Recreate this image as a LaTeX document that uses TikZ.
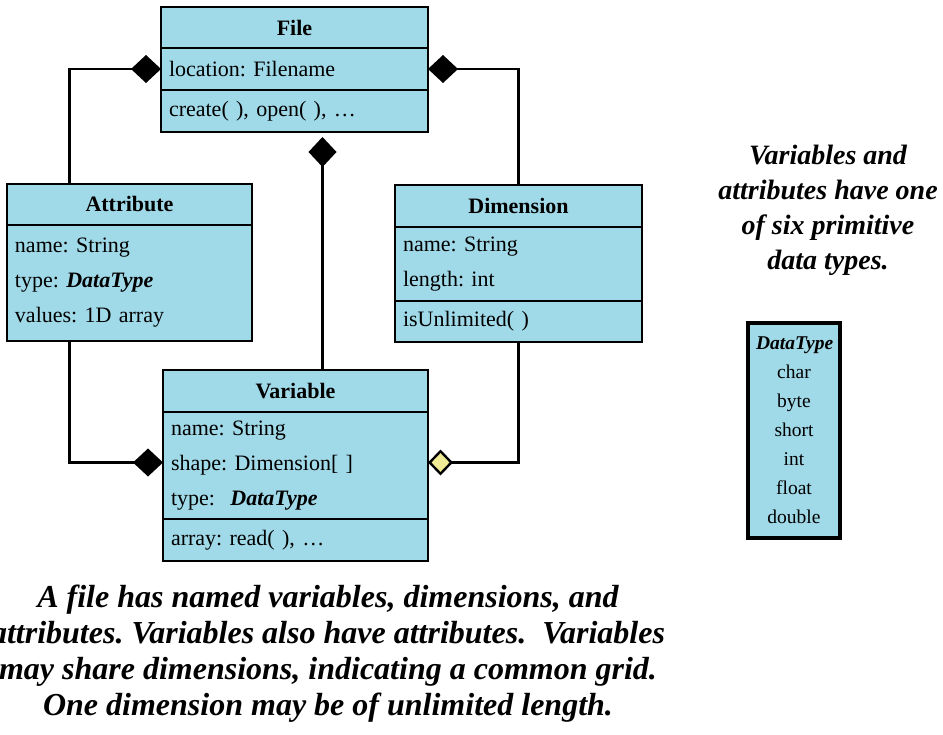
\documentclass[tikz,border=0pt]{standalone}
\usepackage{fontspec}
\setmainfont{Liberation Serif}
\usepackage{tikz}
\usetikzlibrary{arrows.meta,positioning}
\definecolor{ClassBlue}{RGB}{160,217,231}
\definecolor{AggYellow}{RGB}{240,236,150}
\frenchspacing

\begin{document}
\begin{tikzpicture}[x=1pt,y=-1pt,line width=2.4pt]
   \useasboundingbox (0,0) rectangle (943,735);
   \clip (0,0) rectangle (943,735);
   \tikzstyle{part}=[draw=black, fill=ClassBlue, line width=2.4pt, outer sep=0pt, inner ysep=0pt, inner xsep=8pt, font=\fontsize{22}{35}\selectfont]
   \tikzstyle{head}=[part, font=\fontsize{22}{35}\selectfont\bfseries, anchor=north west, minimum height=41]
   \tikzstyle{rows}=[part, align=left, below=0pt of #1]
   \tikzstyle{agg}=[{Diamond[length=30pt,width=28pt]}-]
   \newcommand{\dtype}{\textbf{\textit{DataType}}}
   % File
   \node[head, minimum width=267] (file) at (161,7) {File};
   \node[rows=file, text width=251, minimum height=42] (fileattr) {location: Filename};
   \node[rows=fileattr, text width=251, minimum height=42] (fileops) {create( ), open( ), \ldots};
   % Attribute
   \node[head, minimum width=245] (attr) at (7,184) {Attribute};
   \node[rows=attr, text width=229, minimum height=116] (attrattr) {name: String\\type: \dtype\\values: 1D array};
   % Dimension
   \node[head, minimum width=247, minimum height=42] (dim) at (395,185) {Dimension};
   \node[rows=dim, text width=231, minimum height=74] (dimattr) {name: String\\length: int};
   \node[rows=dimattr, text width=231, minimum height=41] (dimops) {isUnlimited( )};
   % Variable
   \node[head, minimum width=265, minimum height=42] (var) at (163,370) {Variable};
   \node[rows=var, text width=249, minimum height=107] (varattr) {name: String\\shape: Dimension[ ]\\type:\hspace{0.7em}\dtype};
   \node[rows=varattr, text width=249, minimum height=42] (varops) {array: read( ), \ldots};
   % primitive types
   \node[part, line width=3.2pt, anchor=north west, align=center, text width=76, minimum height=215, font=\fontsize{19.5}{29}\selectfont] (types) at (748,323)
      {\dtype\\char\\byte\\short\\int\\float\\double};
   % associations
   \draw[agg] (fileattr.west) -| ([xshift=-60pt]attrattr.south |- attr.north);
   \draw[agg] (fileattr.east) -| (dim.north);
   \draw[agg, shorten <=5pt] ([xshift=28pt]fileops.south) -- ([xshift=28pt]fileops.south |- var.north);
   \draw[agg] ([yshift=3pt]varattr.west) -| ([xshift=-60pt]attrattr.south);
   \draw[{Diamond[length=25pt,width=26pt,fill=AggYellow]}-] ([yshift=3pt]varattr.east) -| (dimops.south);
   % notes
   \node[align=center, font=\fontsize{28}{35}\selectfont\bfseries\itshape] (typenote) at (828,210)
      {Variables and\\attributes have one\\of six primitive\\data types.};
   \node[align=center, font=\fontsize{32}{36}\selectfont\bfseries\itshape] (filenote) at (328,654)
      {A file has named variables, dimensions, and\\attributes. Variables also have attributes.\ \ Variables\\may share dimensions, indicating a common grid.\\One dimension may be of unlimited length.};
\end{tikzpicture}
\end{document}
